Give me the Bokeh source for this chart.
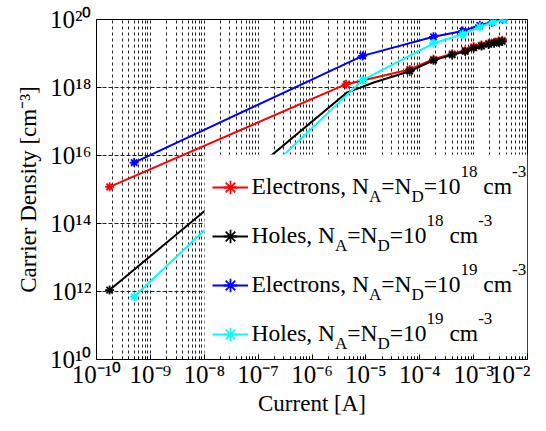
import math
from bokeh.plotting import figure
from bokeh.models import FixedTicker, CustomJSTickFormatter, Label, Legend, LegendItem, BoxAnnotation
from bokeh.embed import file_html
from bokeh.resources import INLINE

# ---------------- data ----------------
x_ticks = [1e-10, 1e-9, 1e-8, 1e-7, 1e-6, 1e-5, 1e-4, 1e-3, 1e-2]
x_tick_labels = ["10\u207b\u00b9\u2070", "10\u207b\u2079", "10\u207b\u2078", "10\u207b\u2077", "10\u207b\u2076",
                 "10\u207b\u2075", "10\u207b\u2074", "10\u207b\u00b3", "10\u207b\u00b2"]
y_ticks = [1e10, 1e12, 1e14, 1e16, 1e18, 1e20]
y_tick_labels = ["10\u00b9\u2070", "10\u00b9\u00b2", "10\u00b9\u2074", "10\u00b9\u2076", "10\u00b9\u2078", "10\u00b2\u2070"]

e18_current = [1.75e-10, 4.3e-6, 6.5e-5, 1.8e-4, 4.0e-4, 7.0e-4, 1.0e-3, 1.4e-3, 1.9e-3, 2.4e-3, 2.9e-3, 3.4e-3]
e18_density = [1.2e15, 1.25e18, 3.4e18, 6.8e18, 9.8e18, 1.24e19, 1.57e19, 1.78e19, 2.0e19, 2.16e19, 2.32e19, 2.43e19]

h18_current = [1.75e-10, 4.5e-6, 7.0e-6, 1.4e-5, 6.5e-5, 1.8e-4, 4.0e-4, 7.0e-4, 1.0e-3, 1.4e-3, 1.9e-3, 2.4e-3, 2.9e-3, 3.4e-3]
h18_density = [1.1e12, 7.2e17, 9.3e17, 1.4e18, 3.0e18, 6.3e18, 9.1e18, 1.15e19, 1.45e19, 1.65e19, 1.85e19, 2.0e19, 2.15e19, 2.25e19]
h18_marked = [True, False, False, False, True, True, True, True, True, True, True, True, True, True]

e19_current = [5e-10, 8.7e-6, 1.8e-4, 6.3e-4, 1.3e-3, 2.2e-3, 3.5e-3]
e19_density = [6.2e15, 8.5e18, 3.1e19, 4.6e19, 6.8e19, 8.3e19, 1.0e20]

h19_current = [5e-10, 8.7e-6, 1.8e-4, 6.3e-4, 1.3e-3, 2.3e-3, 3.6e-3]
h19_density = [7e11, 1.65e18, 2.0e19, 3.7e19, 6.0e19, 8.3e19, 9.8e19]

series_names = ["Electrons", "Holes", "Electrons", "Holes"]
series_doping = ["18", "18", "19", "19"]
series_colors = ["#ff0000", "#000000", "#0000ff", "#00ffff"]

x_title = "Current [A]"
y_title = "Carrier Density [cm\u207b\u00b3]"

# ---------------- layout ----------------
BL, BR, BT, BB = 96, 3, 19, 56
FW, FH = 431, 340
SERIF = "Liberation Serif"
XMIN, XMAX, YMIN, YMAX = 1e-10, 1e-2, 1e10, 1e20

# Times-like advance widths (per 1000 em)
TW = {' ': 250, ',': 250, '=': 564, '-': 333, '[': 333, ']': 333,
      'E': 611, 'N': 722, 'A': 722, 'D': 722, 'H': 722, 'C': 667,
      'a': 444, 'c': 444, 'e': 444, 'i': 278, 'l': 278, 'm': 778, 'n': 500,
      'o': 500, 'r': 333, 's': 389, 't': 278, 'u': 500, 'y': 500}


def tw(s, size):
    return sum(TW.get(ch, 500) for ch in s) * size / 1000.0


def sx_to_data(sx):
    return 10 ** (math.log10(XMIN) + (math.log10(XMAX) - math.log10(XMIN)) * sx / FW)


def sy_to_data(sy):
    return 10 ** (math.log10(YMIN) + (math.log10(YMAX) - math.log10(YMIN)) * sy / FH)


p = figure(frame_width=FW, frame_height=FH, x_axis_type="log", y_axis_type="log",
           x_range=(XMIN, XMAX), y_range=(YMIN, YMAX),
           output_backend="svg", toolbar_location=None,
           min_border_left=BL, min_border_right=BR, min_border_top=BT, min_border_bottom=BB)
p.background_fill_color = "white"
p.border_fill_color = "white"
p.outline_line_color = "black"
p.outline_line_width = 1

minor = [k * 10.0 ** e for e in range(-10, -2) for k in range(2, 10)]
p.xaxis.ticker = FixedTicker(ticks=x_ticks, minor_ticks=minor)
p.yaxis.ticker = FixedTicker(ticks=y_ticks, minor_ticks=[])
fmt_code = """
let best = 0;
const lt = Math.log10(tick);
for (let i = 0; i < tvals.length; i++) {
  if (Math.abs(Math.log10(tvals[i]) - lt) < Math.abs(Math.log10(tvals[best]) - lt)) best = i;
}
return tlabels[best];
"""
p.xaxis.formatter = CustomJSTickFormatter(args=dict(tvals=x_ticks, tlabels=x_tick_labels), code=fmt_code)
p.yaxis.formatter = CustomJSTickFormatter(args=dict(tvals=y_ticks, tlabels=y_tick_labels), code=fmt_code)
for ax in (p.xaxis, p.yaxis):
    ax.major_tick_in = 5
    ax.major_tick_out = 0
    ax.minor_tick_in = 3
    ax.minor_tick_out = 0
    ax.axis_line_color = "black"
    ax.major_tick_line_color = "black"
    ax.minor_tick_line_color = "black"
    ax.major_label_text_font = SERIF
    ax.major_label_text_font_size = "25px"
    ax.major_label_text_color = "black"
    ax.axis_label_text_font = SERIF
    ax.axis_label_text_font_size = "23px"
    ax.axis_label_text_font_style = "normal"
    ax.axis_label_text_color = "black"
p.xaxis.major_label_standoff = 1
p.xaxis.axis_label_standoff = 0
p.yaxis.major_label_standoff = 5
p.yaxis.axis_label_standoff = 6
p.xaxis.axis_label = x_title
p.yaxis.axis_label = y_title

p.xgrid.grid_line_color = "#222222"
p.xgrid.grid_line_dash = "3 3"
p.xgrid.minor_grid_line_color = "#222222"
p.xgrid.minor_grid_line_dash = "3 3"
p.ygrid.grid_line_color = "#222222"
p.ygrid.grid_line_dash = "4 2"
p.ygrid.minor_grid_line_color = None

# ---------------- series ----------------
all_series = [
    (e18_current, e18_density, [True] * len(e18_current)),
    (h18_current, h18_density, h18_marked),
    (e19_current, e19_density, [True] * len(e19_current)),
    (h19_current, h19_density, [True] * len(h19_current)),
]
items = []
for (xs, ys, mk), col in zip(all_series, series_colors):
    lr = p.line(xs, ys, line_color=col, line_width=2)
    mx = [x for x, m in zip(xs, mk) if m]
    my = [y for y, m in zip(ys, mk) if m]
    sr = p.scatter(mx, my, marker="asterisk", size=9, line_color=col, line_width=1.8)
    items.append(LegendItem(label=" ", renderers=[lr, sr]))

# ---------------- legend box ----------------
BOX_X, LEG_X, LEG_Y = 108, 116, 8
PAD, ROWH, SPC = 8, 34, 15
TEXT_X = 155
n = len(series_names)
LEG_H = 2 * PAD + n * ROWH + (n - 1) * SPC
box = BoxAnnotation(left=sx_to_data(BOX_X), bottom=sy_to_data(LEG_Y - 2), top=sy_to_data(LEG_Y + LEG_H),
                    fill_color="white", fill_alpha=1.0, line_color=None, level="annotation")
p.add_layout(box)
legend = Legend(items=items, location=(LEG_X, LEG_Y), margin=0, padding=PAD,
                spacing=SPC, glyph_width=36, glyph_height=ROWH, label_height=ROWH,
                label_width=250, label_standoff=4, label_text_font_size="8px",
                background_fill_alpha=0.0, border_line_color=None)
p.add_layout(legend, "center")

# ---------------- legend texts ----------------
MAIN, SMALL = 23.5, 17
for i, (name, dop) in enumerate(zip(series_names, series_doping)):
    center = LEG_Y + PAD + ROWH / 2 + (n - 1 - i) * (ROWH + SPC)
    base = center - 6.5
    pieces = [(name + ", N", MAIN, 0), ("A", SMALL, -10), ("=N", MAIN, 0), ("D", SMALL, -10),
              ("=10", MAIN, 0), (dop, SMALL, 15), (" cm", MAIN, 0), ("-3", SMALL, 15)]
    xpos = TEXT_X
    for txt, fs, dy in pieces:
        lead = len(txt) - len(txt.lstrip(" "))
        if lead:
            xpos += tw(" " * lead, fs)
            txt = txt.lstrip(" ")
        p.add_layout(Label(x=xpos, y=base + dy, x_units="screen", y_units="screen", text=txt,
                           text_font=SERIF, text_font_size=f"{fs}px", text_color="black",
                           text_align="left", text_baseline="alphabetic", level="overlay"))
        xpos += tw(txt, fs)

open("out.html", "w").write(file_html(p, INLINE))
